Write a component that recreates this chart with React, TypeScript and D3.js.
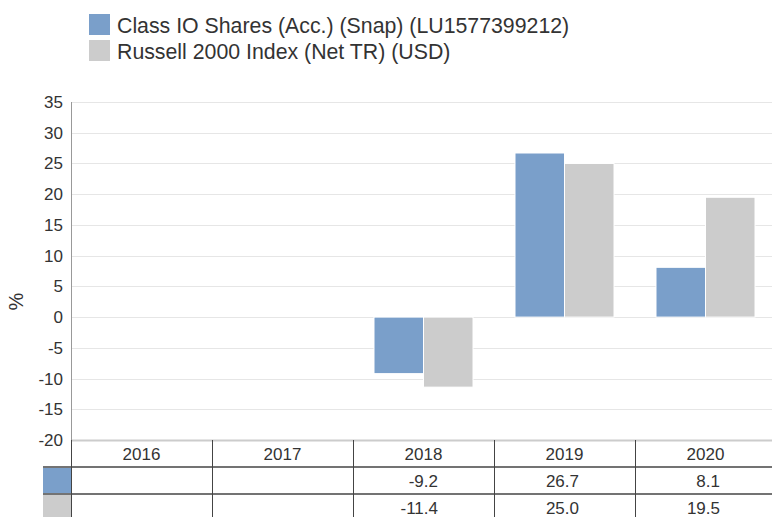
import React from "react";
import * as d3 from "d3";

const categories = ["2016", "2017", "2018", "2019", "2020"];
const seriesNames = ["Class IO Shares (Acc.) (Snap) (LU1577399212)", "Russell 2000 Index (Net TR) (USD)"];
const fundValues: (number | null)[] = [null, null, -9.2, 26.7, 8.1];
const indexValues: (number | null)[] = [null, null, -11.4, 25.0, 19.5];
const yTicks = [35, 30, 25, 20, 15, 10, 5, 0, -5, -10, -15, -20];
const colors = ["#7a9fca", "#cccccc"];

const W = 772;
const H = 517;
const left = 71;
const font = "'Liberation Sans', Arial, Helvetica, sans-serif";

export default function App() {
  const y = d3.scaleLinear().domain([-20, 35]).range([440, 102]);
  const x = d3.scaleBand<string>().domain(categories).range([left, left + 705]);
  const inner = d3.scaleBand<number>().domain([0, 1]).range([0, 99]).padding(0);
  const groupOffset = (x.bandwidth() - 99) / 2;
  const series = [fundValues, indexValues];
  const rowY = [467, 494];
  const rowBottom = [494, 521];

  return (
    <svg width={W} height={H} style={{ position: "absolute", left: 0, top: 0 }} fontFamily={font}>
      {/* legend */}
      {seriesNames.map((n, i) => (
        <g key={n}>
          <rect x={89} y={14 + i * 26} width={21} height={21} fill={colors[i]} />
          <text x={117} y={33 + i * 26} fontSize={21.3} fill="#333">{n}</text>
        </g>
      ))}
      {/* gridlines */}
      {yTicks.map((t) => (
        <g key={t}>
          <line x1={left} x2={W} y1={Math.round(y(t)) + 0.5} y2={Math.round(y(t)) + 0.5} stroke={t === -20 ? "#cccccc" : "#e6e6e6"} strokeWidth={t === -20 ? 2 : 1} />
          <text x={63} y={y(t) + 6} textAnchor="end" fontSize={17} fill="#333">{t}</text>
        </g>
      ))}
      {/* bars */}
      {series.map((vals, si) =>
        vals.map((v, ci) =>
          v === null ? null : (
            <rect
              key={si + "-" + ci}
              x={(x(categories[ci]) as number) + groupOffset + (inner(si) as number)}
              y={y(Math.max(0, v))}
              width={inner.bandwidth()}
              height={Math.abs(y(v) - y(0))}
              fill={colors[si]}
              stroke="#fff"
              strokeWidth={1}
            />
          )
        )
      )}
      {/* y axis line */}
      <line x1={left + 0.5} x2={left + 0.5} y1={102} y2={440} stroke="#999" />
      <line x1={left + 0.5} x2={left + 0.5} y1={440} y2={H} stroke="#444" />
      {/* y label */}
      <text transform={`translate(23,${y(2.5)}) rotate(-90)`} textAnchor="middle" fontSize={20} fill="#333">%</text>
      {/* table */}
      {categories.slice(1).map((c) => (
        <line key={c} x1={(x(c) as number) + 0.5} x2={(x(c) as number) + 0.5} y1={440} y2={H} stroke="#444" />
      ))}
      {rowY.map((ry) => (
        <line key={ry} x1={43} x2={W} y1={ry} y2={ry} stroke="#444" strokeWidth={1.5} />
      ))}
      {colors.map((c, i) => (
        <rect key={c} x={43} y={rowY[i] + 1} width={28} height={rowBottom[i] - rowY[i] - 2} fill={c} />
      ))}
      {categories.map((c) => (
        <text key={c} x={(x(c) as number) + x.bandwidth() / 2} y={460} textAnchor="middle" fontSize={17} fill="#333">{c}</text>
      ))}
      {series.map((vals, si) =>
        vals.map((v, ci) =>
          v === null ? null : (
            <text
              key={"t" + si + "-" + ci}
              x={(x(categories[ci]) as number) + 85}
              y={487 + si * 27}
              textAnchor="end"
              fontSize={17}
              fill="#333"
            >
              {v.toFixed(1)}
            </text>
          )
        )
      )}
    </svg>
  );
}
